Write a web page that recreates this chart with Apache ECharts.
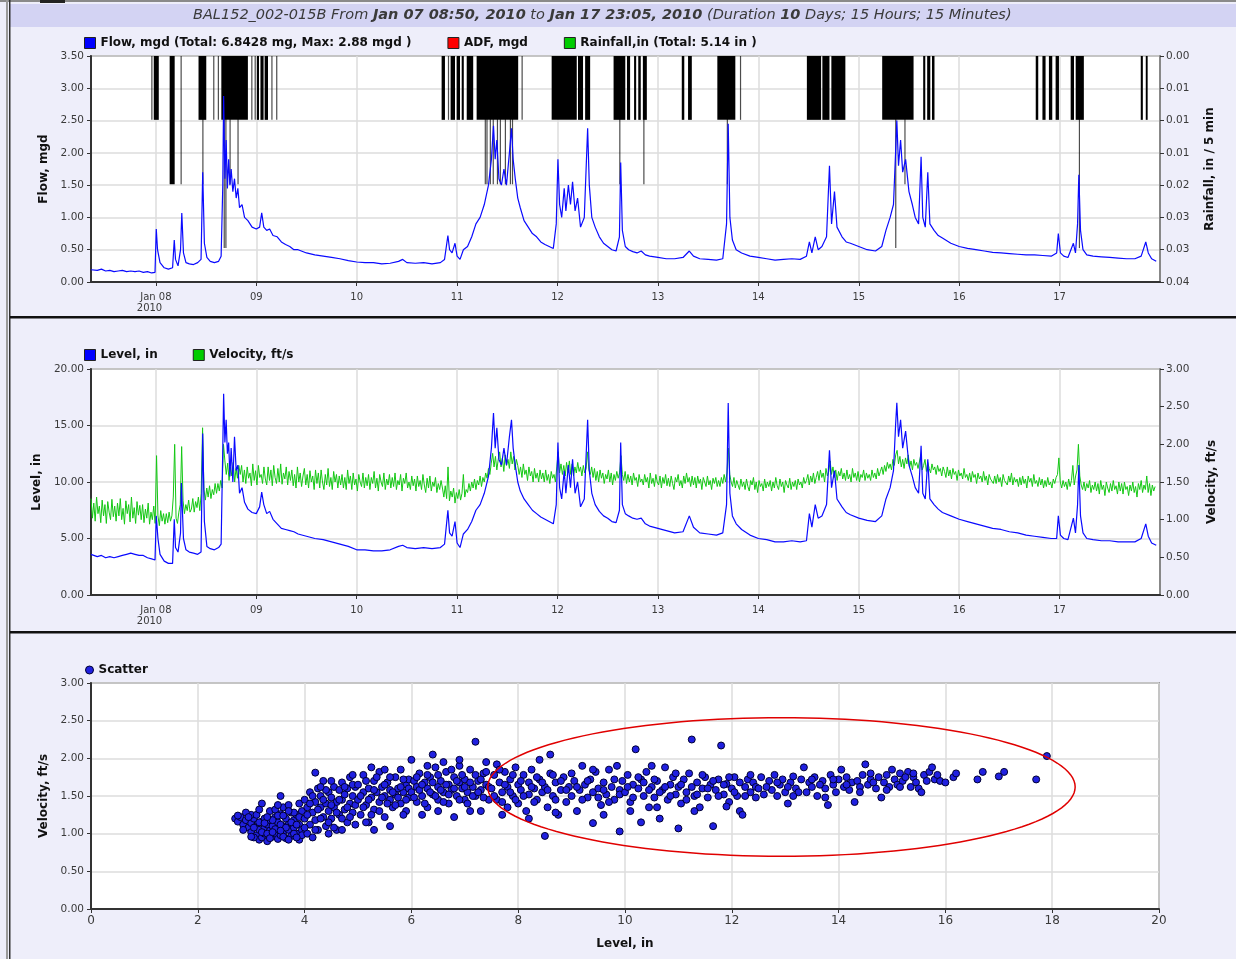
<!DOCTYPE html>
<html><head><meta charset="utf-8">
<script src="https://cdn.jsdelivr.net/npm/echarts@6/dist/echarts.min.js"></script>
<style>html,body{margin:0;padding:0;background:#eeeefa;} #c{width:1236px;height:959px;}</style>
</head><body><div id="c"></div>
<script>
// ---- time base: hours counted from Jan 07 2010 00:00 ----
const axisStartHour = 8.5, axisEndHour = 264;

// Flow, mgd  [hour, value]
const flow = [[8.5,.19],[10,.18],[11,.2],[12,.17],[13,.18],[14,.16],[15,.17],[16,.18],[17,.16],[18,.17],[19,.16],[20,.17],[21,.15],[22,.16],[23,.14],[23.8,.15],[24.1,.82],[24.4,.5],[25,.3],[26,.22],[27,.2],[28,.22],[28.4,.65],[28.7,.35],[29.3,.25],[29.9,.5],[30.2,1.07],[30.6,.45],[31.2,.3],[32,.28],[33,.27],[34,.3],[34.8,.35],[35.2,1.7],[35.6,.6],[36.2,.38],[37,.32],[38,.3],[39,.32],[39.6,.4],[40.0,1.5],[40.2,2.88],[40.5,1.6],[40.8,2.2],[41.1,1.45],[41.4,1.9],[41.7,1.5],[42,1.75],[42.4,1.4],[42.8,1.6],[43.2,1.3],[43.6,1.45],[44,1.15],[44.6,1.2],[45.2,1.0],[46,0.95],[47,0.85],[48,0.82],[48.8,0.85],[49.3,1.07],[49.8,0.85],[50.5,0.8],[51.2,0.82],[52,0.72],[53,0.7],[54,0.62],[55,0.58],[56,0.55],[57,0.5],[58,0.5],[60,0.45],[62,0.42],[64,0.4],[66,0.38],[68,0.36],[70,0.33],[72,0.31],[74,0.3],[76,0.3],[78,0.28],[80,0.29],[82,0.32],[83,0.35],[84,0.3],[86,0.29],[88,0.3],[90,0.28],[92,0.3],[93,0.35],[93.8,0.72],[94.2,0.5],[94.8,0.45],[95.5,0.6],[96,0.4],[96.7,0.35],[97.5,0.5],[98.5,0.55],[99.5,0.7],[100.5,0.9],[101.5,1.0],[102.5,1.2],[103.5,1.5],[104.2,1.9],[104.7,2.42],[105.1,1.9],[105.5,2.2],[106,1.6],[106.6,1.5],[107.2,1.75],[107.8,1.5],[108.5,2.0],[109.0,2.38],[109.4,1.9],[109.9,1.6],[110.5,1.3],[111.1,1.15],[112,0.95],[113,0.85],[114,0.75],[115,0.7],[116,0.62],[117,0.58],[118,0.55],[119,0.52],[119.7,0.9],[120.1,1.9],[120.5,1.2],[121,1.0],[121.6,1.45],[122,1.1],[122.6,1.5],[123.1,1.2],[123.6,1.55],[124.2,1.1],[124.8,1.3],[125.5,0.85],[126.4,1.0],[127.2,2.38],[127.6,1.5],[128.2,1.0],[129,0.85],[130,0.7],[131,0.6],[132,0.55],[133,0.5],[134,0.48],[134.8,0.7],[135.1,1.85],[135.5,0.8],[136.2,0.55],[137,0.5],[138,0.47],[139,0.45],[140,0.48],[141,0.42],[142,0.4],[144,0.38],[146,0.36],[148,0.36],[150,0.38],[151.5,0.48],[152.5,0.4],[154,0.36],[156,0.35],[158,0.34],[159.5,0.36],[160.4,0.9],[160.8,2.45],[161.2,1.0],[161.8,0.65],[162.7,0.5],[164,0.45],[166,0.4],[168,0.38],[170,0.36],[172,0.34],[174,0.35],[176,0.36],[178,0.35],[179.5,0.4],[180.2,0.62],[180.8,0.45],[181.6,0.7],[182.3,0.5],[183.2,0.55],[184.3,0.7],[185,1.8],[185.5,0.9],[186.2,1.4],[186.8,0.85],[188,0.7],[189,0.62],[190,0.6],[192,0.55],[194,0.5],[196,0.48],[197.5,0.55],[198.5,0.8],[199.5,1.0],[200.3,1.2],[200.8,2.0],[201.1,2.5],[201.5,1.8],[202,2.2],[202.5,1.7],[203.2,1.9],[204,1.4],[204.8,1.2],[205.5,1.0],[206.3,0.9],[206.9,1.94],[207.3,1.0],[207.9,0.85],[208.5,1.7],[209,0.9],[210,0.8],[211,0.72],[212,0.68],[214,0.6],[216,0.55],[218,0.52],[220,0.5],[222,0.48],[224,0.46],[226,0.45],[228,0.44],[230,0.43],[232,0.42],[234,0.42],[236,0.41],[238,0.4],[239.3,0.45],[239.7,0.75],[240.2,0.45],[241,0.4],[242,0.38],[243.3,0.6],[243.8,0.45],[244.3,0.9],[244.6,1.66],[245,0.8],[245.6,0.5],[246.5,0.42],[248,0.4],[250,0.39],[252,0.38],[254,0.37],[256,0.36],[258,0.36],[259.5,0.4],[260.6,0.62],[261.2,0.45],[262,0.36],[263.1,0.32]];

// Level, in  [hour, value]
const level = [[8.5,3.6],[10,3.4],[11,3.5],[12,3.3],[13,3.4],[14,3.3],[15,3.4],[16,3.5],[17,3.6],[18,3.7],[19,3.6],[20,3.5],[21,3.5],[22,3.3],[23,3.2],[23.8,3.1],[24.1,7.0],[24.5,5.0],[25,3.6],[26,3.0],[27,2.8],[28,2.8],[28.4,6.7],[28.7,4.2],[29.3,3.8],[29.9,5.5],[30.1,9.9],[30.6,5.0],[31.2,4.0],[32,3.8],[33,3.7],[34,3.6],[34.8,3.8],[35.2,14.3],[35.6,6.5],[36.2,4.3],[37,4.1],[38,4.0],[39,4.2],[39.6,4.5],[40.0,13],[40.2,17.8],[40.5,13.5],[40.8,15.5],[41.1,12.5],[41.4,13.5],[41.7,10.5],[42,13],[42.4,10],[42.8,14],[43.2,11],[43.6,11.5],[44,9],[44.6,9.5],[45.2,8.2],[46,7.6],[47,7.3],[48,7.2],[48.8,7.8],[49.3,9.1],[49.8,8],[50.5,7.2],[51.2,7.4],[52,6.7],[53,6.3],[54,5.9],[55,5.8],[56,5.7],[57,5.6],[58,5.4],[60,5.2],[62,5.0],[64,4.9],[66,4.7],[68,4.5],[70,4.3],[72,4.0],[74,4.0],[76,3.9],[78,3.9],[80,4.0],[82,4.3],[83,4.4],[84,4.2],[86,4.1],[88,4.2],[90,4.1],[92,4.2],[93,4.5],[93.8,7.5],[94.2,5.5],[94.8,5.2],[95.5,6.5],[96,4.6],[96.7,4.2],[97.5,5.4],[98.5,5.8],[99.5,6.5],[100.5,7.5],[101.5,8.0],[102.5,9.0],[103.5,10.5],[104.2,13],[104.7,16.1],[105.1,13],[105.5,14.8],[106,12],[106.6,11.5],[107.2,13],[107.8,11.5],[108.5,14],[109.0,15.5],[109.4,13],[109.9,11.5],[110.5,10],[111.1,9.2],[112,8.5],[113,8.0],[114,7.5],[115,7.2],[116,6.9],[117,6.7],[118,6.5],[119,6.3],[119.7,8],[120.1,13.5],[120.5,9.5],[121,8.5],[121.6,11],[122,9],[122.6,11.5],[123.1,9.5],[123.6,12],[124.2,9],[124.8,10],[125.5,7.8],[126.4,8.5],[127.2,15.5],[127.6,11],[128.2,9],[129,8],[130,7.4],[131,7.0],[132,6.8],[133,6.5],[134,6.4],[134.8,7.5],[135.1,13.5],[135.5,8],[136.2,7.2],[137,7.0],[138,6.8],[139,6.7],[140,6.8],[141,6.3],[142,6.1],[144,5.9],[146,5.7],[148,5.5],[150,5.6],[151.5,7.0],[152.5,6.0],[154,5.5],[156,5.4],[158,5.3],[159.5,5.5],[160.4,8],[160.8,17.0],[161.2,9],[161.8,7.0],[162.7,6.3],[164,5.8],[166,5.3],[168,5.0],[170,4.9],[172,4.7],[174,4.7],[176,4.8],[178,4.7],[179.5,4.8],[180.2,7.2],[180.8,6],[181.6,8],[182.3,6.8],[183.2,7.0],[184.3,8],[185,12.8],[185.5,9.5],[186.2,11],[186.8,8.5],[188,7.8],[189,7.3],[190,7.1],[192,6.8],[194,6.6],[196,6.5],[197.5,7.0],[198.5,8.5],[199.5,9.5],[200.3,11],[200.8,15],[201.1,17.0],[201.5,14],[202,15.5],[202.5,13],[203.2,14.5],[204,11.5],[204.8,10.5],[205.5,9.5],[206.3,9],[206.9,13.2],[207.3,9],[207.9,8.5],[208.5,12],[209,8.5],[210,8.0],[211,7.6],[212,7.3],[214,7.0],[216,6.7],[218,6.5],[220,6.3],[222,6.1],[224,5.9],[226,5.8],[228,5.6],[230,5.5],[232,5.3],[234,5.2],[236,5.1],[238,5.0],[239.3,5.0],[239.7,7.0],[240.2,5.3],[241,5.0],[242,4.9],[243.3,6.8],[243.8,5.5],[244.3,8],[244.6,11.5],[245,7],[245.6,5.5],[246.5,5.0],[248,4.9],[250,4.8],[252,4.8],[254,4.7],[256,4.7],[258,4.7],[259.5,5.0],[260.6,6.3],[261.2,5.2],[262,4.6],[263.1,4.4]];

// Velocity, ft/s : one reading every 20 min from hour 8.5
const velStartHour = 8.5, velStepHour = 1/3;
const velocity = [
1.28,1.02,1.22,0.98,1.3,1.08,1.18,0.96,1.26,1.05,1.2,0.95,1.24,1.1,1.0,1.27,1.04,1.18,
0.98,1.22,1.05,1.28,1.0,1.15,0.94,1.25,1.08,1.2,0.97,1.3,1.02,1.16,0.95,1.24,1.06,1.19,
1.0,1.2,0.96,1.14,1.02,1.22,0.94,1.1,1.0,1.18,0.95,1.85,1.05,0.92,1.12,0.98,1.08,0.94,
1.08,0.96,1.1,0.98,1.05,1.3,2.0,1.02,0.95,1.1,1.2,1.97,1.25,1.08,1.2,1.12,1.26,1.1,
1.14,1.28,1.1,1.24,1.16,1.3,1.12,1.35,2.22,1.4,1.26,1.42,1.3,1.45,1.28,1.4,1.33,1.48,
1.35,1.48,1.38,1.52,1.42,2.0,1.78,1.6,1.75,1.52,1.7,1.58,1.76,1.5,1.68,1.55,1.72,1.6,
1.72,1.5,1.66,1.48,1.7,1.55,1.62,1.45,1.74,1.52,1.65,1.46,1.72,1.56,1.6,1.48,1.7,1.54,
1.46,1.7,1.52,1.66,1.45,1.72,1.56,1.48,1.68,1.5,1.74,1.47,1.62,1.54,1.7,1.46,1.64,1.52,
1.66,1.45,1.6,1.42,1.7,1.5,1.62,1.44,1.58,1.68,1.46,1.6,1.42,1.65,1.5,1.58,1.4,1.66,
1.48,1.62,1.42,1.66,1.5,1.4,1.6,1.46,1.68,1.44,1.56,1.4,1.64,1.5,1.6,1.42,1.58,1.46,
1.6,1.42,1.56,1.4,1.66,1.48,1.58,1.4,1.62,1.46,1.54,1.38,1.6,1.5,1.44,1.62,1.42,1.56,
1.45,1.6,1.4,1.56,1.48,1.64,1.42,1.55,1.38,1.6,1.5,1.44,1.62,1.4,1.54,1.46,1.6,1.42,
1.56,1.44,1.62,1.4,1.52,1.46,1.6,1.38,1.55,1.48,1.62,1.42,1.5,1.4,1.58,1.45,1.54,1.38,
1.58,1.44,1.52,1.4,1.6,1.46,1.36,1.55,1.42,1.58,1.38,1.5,1.44,1.56,1.36,1.48,1.4,1.52,
1.42,1.3,1.45,1.28,1.7,1.25,1.38,1.3,1.42,1.22,1.36,1.28,1.4,1.26,1.35,1.6,1.3,1.4,
1.36,1.48,1.38,1.5,1.42,1.54,1.4,1.52,1.46,1.58,1.44,1.56,1.5,1.62,1.55,1.68,1.6,1.75,
1.88,1.7,1.84,1.66,1.8,1.9,1.7,1.82,1.64,1.86,1.72,1.8,1.68,1.9,1.74,1.84,1.66,1.8,
1.72,1.6,1.7,1.56,1.74,1.6,1.66,1.52,1.7,1.58,1.64,1.5,1.68,1.55,1.62,1.5,1.66,1.54,
1.62,1.5,1.66,1.52,1.6,1.48,1.64,1.55,1.6,1.5,1.7,1.9,1.62,1.74,1.6,1.72,1.58,1.76,
1.62,1.78,1.6,1.74,1.58,1.7,1.62,1.76,1.64,1.7,1.58,1.72,1.62,1.68,1.9,1.66,1.6,1.7,
1.56,1.68,1.52,1.64,1.5,1.66,1.55,1.62,1.48,1.6,1.54,1.66,1.5,1.62,1.46,1.6,1.52,1.64,
1.55,1.62,1.85,1.6,1.52,1.64,1.48,1.6,1.5,1.58,1.46,1.62,1.52,1.56,1.44,1.6,1.5,1.54,
1.46,1.6,1.5,1.56,1.42,1.62,1.48,1.55,1.44,1.6,1.5,1.46,1.58,1.42,1.56,1.48,1.6,1.45,
1.55,1.44,1.58,1.48,1.4,1.56,1.5,1.6,1.45,1.52,1.42,1.58,1.48,1.62,1.5,1.56,1.44,1.58,
1.46,1.56,1.42,1.58,1.48,1.54,1.4,1.56,1.5,1.44,1.58,1.46,1.52,1.4,1.55,1.48,1.56,1.44,
1.52,1.44,1.56,1.48,1.6,1.5,1.62,1.95,1.6,1.5,1.44,1.56,1.42,1.52,1.46,1.4,1.54,1.44,
1.5,1.4,1.54,1.44,1.38,1.52,1.46,1.56,1.4,1.5,1.36,1.52,1.44,1.48,1.38,1.54,1.42,1.5,
1.44,1.52,1.38,1.5,1.42,1.56,1.45,1.4,1.54,1.44,1.5,1.36,1.52,1.46,1.42,1.55,1.4,1.5,
1.44,1.52,1.4,1.54,1.46,1.5,1.42,1.56,1.48,1.52,1.6,1.46,1.58,1.5,1.62,1.48,1.56,1.64,
1.52,1.66,1.56,1.62,1.5,1.68,1.58,1.64,1.78,1.6,1.7,1.56,1.66,1.52,1.64,1.58,1.68,1.54,
1.62,1.52,1.66,1.54,1.6,1.5,1.68,1.56,1.62,1.52,1.64,1.5,1.6,1.56,1.66,1.52,1.62,1.55,
1.6,1.52,1.66,1.56,1.62,1.54,1.68,1.58,1.64,1.7,1.6,1.72,1.64,1.76,1.68,1.74,1.66,1.8,
1.72,1.86,1.92,1.74,1.84,1.7,1.8,1.68,1.82,1.74,1.86,1.7,1.78,1.66,1.8,1.72,1.76,1.68,
1.7,1.86,1.66,1.72,1.8,1.64,1.76,1.68,1.62,1.74,1.66,1.7,1.6,1.72,1.64,1.68,1.58,1.7,
1.64,1.56,1.7,1.58,1.66,1.54,1.68,1.6,1.64,1.52,1.66,1.58,1.62,1.54,1.68,1.56,1.6,1.52,
1.62,1.5,1.64,1.56,1.6,1.48,1.62,1.54,1.58,1.5,1.64,1.52,1.58,1.46,1.6,1.54,1.56,1.48,
1.58,1.48,1.6,1.5,1.56,1.44,1.6,1.52,1.54,1.46,1.58,1.5,1.62,1.46,1.56,1.5,1.54,1.44,
1.56,1.46,1.58,1.48,1.54,1.42,1.58,1.5,1.55,1.44,1.6,1.48,1.52,1.44,1.56,1.46,1.54,1.42,
1.52,1.44,1.56,1.46,1.5,1.42,1.54,1.48,1.56,1.6,1.82,1.5,1.42,1.52,1.44,1.5,1.4,1.54,
1.44,1.52,1.72,1.46,1.58,1.66,2.0,1.58,1.46,1.4,1.5,1.38,1.48,1.42,1.52,1.36,1.46,1.4,
1.5,1.38,1.48,1.34,1.52,1.4,1.46,1.32,1.5,1.42,1.36,1.48,1.38,1.52,1.4,1.45,1.34,1.5,
1.38,1.48,1.34,1.5,1.4,1.44,1.32,1.46,1.38,1.5,1.36,1.44,1.3,1.48,1.4,1.52,1.36,1.46,
1.4,1.58,1.36,1.48,1.32,1.46,1.38,1.44];

// Rainfall, in / 5 min : [start hour, end hour, depth]
const rain = [[22.9,23.2,.0113],[23.5,24.7,.0113],[27.3,28.5,.0227],[29.9,30.1,.0227],[34.2,36.05,.0113],[35.1,35.2,.0227],[37.7,37.8,.0113],[38.8,38.9,.0113],[39.65,46.0,.0113],[40.2,40.3,.034],[40.6,40.7,.034],[41.6,41.7,.0227],[43.5,43.6,.0227],[46.8,46.9,.0113],[47.6,47.7,.0113],[48.15,48.65,.0113],[49.0,49.75,.0113],[50.0,50.8,.0113],[51.6,51.7,.0113],[52.75,52.85,.0113],[92.3,93.1,.0113],[93.8,94.0,.0113],[94.45,95.5,.0113],[95.9,96.7,.0113],[97.1,97.6,.0113],[98.3,99.85,.0113],[100.67,110.6,.0113],[102.6,102.7,.0227],[103.0,103.1,.0227],[103.8,103.9,.0227],[104.5,104.6,.0227],[105.5,105.6,.0227],[106.2,106.3,.0227],[107.4,107.5,.0227],[108.6,108.7,.0227],[109.1,109.2,.0227],[111.4,111.5,.0113],[118.6,124.6,.0113],[124.9,126.1,.0113],[126.6,127.8,.0113],[133.4,136.2,.0113],[134.75,134.85,.0227],[136.6,137.35,.0113],[138.3,138.8,.0113],[139.3,139.9,.0113],[140.4,141.35,.0113],[140.5,140.6,.0227],[149.7,150.3,.0113],[151.2,152.1,.0113],[158.2,162.5,.0113],[160.45,160.55,.0227],[163.6,163.7,.0113],[179.6,183.0,.0113],[183.3,185.0,.0113],[185.45,188.8,.0113],[197.6,205.1,.0113],[200.7,200.8,.034],[202.9,203.0,.0227],[207.4,207.9,.0113],[208.35,209.1,.0113],[209.5,210.1,.0113],[234.3,234.9,.0113],[235.9,236.65,.0113],[237.45,238.25,.0113],[239.05,239.85,.0113],[242.65,243.45,.0113],[243.85,245.8,.0113],[244.6,244.7,.034],[259.4,259.9,.0113],[260.6,261.05,.0113]];

// Scatter: [level in, velocity ft/s]
const scatter = [[2.7,1.2],[2.75,1.16],[2.8,1.22],[2.85,1.12],[2.9,1.18],[2.95,1.08],[3.0,1.14],[3.0,1.02],[3.05,1.2],[3.1,0.98],[3.1,1.1],[3.15,0.92],[3.15,1.05],[3.2,1.16],[3.2,0.95],[3.25,1.08],[3.25,1.0],[3.3,1.12],[3.3,0.9],[3.35,1.04],[3.35,1.18],[3.4,0.96],[3.4,1.1],[3.45,1.22],[3.45,1.0],[3.5,0.93],[3.5,1.15],[3.5,1.06],[3.55,1.26],[3.55,0.98],[3.6,1.1],[3.6,1.02],[3.65,1.2],[3.65,0.94],[3.7,1.12],[3.7,1.05],[3.75,1.28],[3.75,0.97],[3.8,1.18],[3.8,1.08],[3.85,1.0],[3.85,1.25],[3.9,1.12],[3.9,0.92],[3.95,1.3],[3.95,1.05],[3.2,1.4],[3.55,1.5],[3.35,1.3],[3.0,1.25],[3.45,1.32],[3.6,1.35],[2.9,1.28],[3.7,1.38],
[2.75,1.24],[2.85,1.05],[2.95,1.22],[3.05,0.95],[3.1,1.25],[3.15,1.15],[3.2,1.02],[3.25,1.2],[3.3,1.0],[3.35,0.94],[3.4,1.18],[3.45,1.06],[3.5,1.24],[3.55,1.12],[3.6,0.96],[3.65,1.08],[3.7,0.92],[3.75,1.15],[3.8,1.0],[3.85,1.12],[3.9,1.22],[3.95,0.98],[3.05,1.08],[3.25,1.14],[3.4,1.02],[3.6,1.24],[3.8,1.28],[3.15,1.32],[3.5,1.38],[3.9,1.4],[3.7,1.3],[3.3,1.22],[3.0,0.96],[3.55,1.04],[3.85,0.95],
[4.0,1.45],[4.0,1.2],[4.05,1.0],[4.05,1.35],[4.1,1.55],[4.1,1.12],[4.15,1.28],[4.15,0.95],[4.2,1.42],[4.2,1.18],[4.25,1.6],[4.25,1.05],[4.3,1.35],[4.3,1.5],[4.35,1.22],[4.35,1.7],[4.4,1.4],[4.4,1.1],[4.45,1.55],[4.45,1.3],[4.5,1.48],[4.5,1.2],[4.55,1.62],[4.55,1.35],[4.6,1.42],[4.6,1.05],[4.65,1.58],[4.65,1.25],[4.7,1.45],[4.7,1.68],[4.75,1.32],[4.75,1.52],[4.8,1.15],[4.8,1.6],[4.85,1.4],[4.85,1.75],[4.9,1.28],[4.9,1.5],[4.95,1.62],[4.95,1.38],[4.2,1.81],[4.45,1.0],
[4.05,1.25],[4.1,1.4],[4.15,1.5],[4.2,1.05],[4.25,1.32],[4.3,1.2],[4.35,1.45],[4.4,1.58],[4.45,1.15],[4.5,1.38],[4.55,1.08],[4.6,1.28],[4.65,1.45],[4.7,1.2],[4.75,1.62],[4.8,1.35],[4.85,1.22],[4.9,1.65],[4.95,1.12],[4.0,1.08],[4.3,1.62],[4.5,1.7],[4.7,1.05],[4.9,1.78],
[5.0,1.45],[5.0,1.65],[5.05,1.25],[5.1,1.55],[5.1,1.78],[5.15,1.38],[5.2,1.6],[5.2,1.15],[5.25,1.48],[5.3,1.7],[5.3,1.32],[5.35,1.55],[5.4,1.42],[5.4,1.82],[5.45,1.62],[5.5,1.5],[5.5,1.22],[5.55,1.68],[5.6,1.45],[5.6,1.58],[5.65,1.35],[5.7,1.75],[5.7,1.52],[5.75,1.6],[5.8,1.4],[5.8,1.85],[5.85,1.55],[5.9,1.65],[5.9,1.3],[5.95,1.48],[5.3,1.05],[5.6,1.1],[5.95,1.72],
[5.05,1.5],[5.1,1.35],[5.15,1.7],[5.2,1.45],[5.25,1.25],[5.3,1.58],[5.35,1.75],[5.4,1.3],[5.45,1.48],[5.5,1.65],[5.55,1.4],[5.6,1.75],[5.65,1.55],[5.7,1.38],[5.75,1.48],[5.8,1.62],[5.85,1.72],[5.9,1.45],[5.95,1.6],[5.15,1.15],[5.5,1.85],[5.85,1.25],[5.25,1.88],
[6.0,1.55],[6.0,1.98],[6.05,1.7],[6.1,1.42],[6.1,1.62],[6.15,1.8],[6.2,1.5],[6.25,1.68],[6.3,1.35],[6.3,1.6],[6.35,1.75],[6.4,1.52],[6.45,1.88],[6.5,1.62],[6.5,1.45],[6.55,1.7],[6.6,1.55],[6.65,1.82],[6.7,1.4],[6.7,1.65],[6.75,1.58],[6.8,1.75],[6.85,1.5],[6.9,1.68],[6.9,1.9],[6.95,1.6],[7.0,1.45],[7.0,1.72],[7.05,1.55],[7.1,1.85],[7.15,1.62],[7.2,2.22],[7.2,1.5],[7.25,1.7],[7.3,1.58],[7.35,1.8],[7.4,1.65],[7.45,1.45],[6.2,1.25],[6.8,1.22],[7.3,1.3],[6.4,2.05],[6.6,1.95],
[6.05,1.48],[6.1,1.75],[6.15,1.58],[6.2,1.65],[6.25,1.4],[6.3,1.78],[6.35,1.55],[6.4,1.68],[6.45,1.5],[6.5,1.78],[6.55,1.58],[6.6,1.42],[6.65,1.65],[6.7,1.52],[6.75,1.85],[6.8,1.6],[6.85,1.7],[6.9,1.45],[6.95,1.78],[7.0,1.62],[7.05,1.4],[7.1,1.68],[7.15,1.5],[7.2,1.78],[7.25,1.55],[7.3,1.72],[7.35,1.48],[7.4,1.82],[7.45,1.62],[6.3,1.9],[6.9,1.98],[7.1,1.3],[6.5,1.3],[7.4,1.95],
[7.5,1.6],[7.55,1.78],[7.6,1.92],[7.6,1.45],[7.65,1.68],[7.7,1.55],[7.75,1.82],[7.8,1.35],[7.8,1.62],[7.85,1.72],[7.9,1.5],[7.95,1.88],[8.0,1.65],[8.0,1.4],[8.05,1.58],[8.1,1.78],[8.15,1.3],[8.2,1.68],[8.2,1.52],[8.25,1.85],[8.3,1.6],[8.35,1.45],[8.4,1.72],[8.4,1.98],[8.45,1.55],[8.5,0.97],[8.5,1.62],[8.55,1.35],[8.6,1.8],[8.6,2.05],[8.65,1.5],[8.7,1.68],[8.75,1.25],[8.8,1.58],[8.85,1.75],[8.9,1.42],[8.95,1.62],[9.0,1.5],[9.05,1.7],[9.1,1.3],[9.15,1.58],[9.2,1.9],[9.25,1.65],[9.3,1.48],[9.35,1.72],[9.4,1.14],[9.4,1.55],[9.45,1.82],[9.5,1.6],[9.55,1.38],[9.6,1.68],[9.65,1.52],[9.7,1.85],[9.75,1.62],[9.8,1.45],[9.85,1.9],[9.9,1.03],[9.9,1.58],[9.95,1.7],
[7.55,1.5],[7.65,1.85],[7.7,1.42],[7.75,1.65],[7.85,1.55],[7.9,1.78],[7.95,1.45],[8.05,1.7],[8.1,1.5],[8.25,1.62],[8.3,1.42],[8.35,1.75],[8.45,1.68],[8.55,1.58],[8.65,1.78],[8.7,1.45],[8.8,1.7],[8.9,1.58],[9.0,1.8],[9.1,1.62],[9.2,1.45],[9.3,1.7],[9.4,1.85],[9.5,1.48],[9.6,1.58],[9.7,1.42],[9.8,1.72],[9.9,1.52],[8.2,1.2],[8.7,1.28],[9.6,1.25],[7.7,1.25],
[10.0,1.55],[10.05,1.78],[10.1,1.42],[10.15,1.65],[10.2,2.12],[10.25,1.6],[10.3,1.15],[10.3,1.72],[10.35,1.5],[10.4,1.82],[10.45,1.35],[10.5,1.62],[10.5,1.9],[10.55,1.48],[10.6,1.7],[10.65,1.2],[10.7,1.58],[10.75,1.88],[10.8,1.45],[10.85,1.65],[10.9,1.75],[10.95,1.52],[11.0,1.07],[11.0,1.62],[11.05,1.4],[11.1,1.72],[11.15,1.55],[11.2,1.8],[11.25,2.25],[11.3,1.5],[11.35,1.68],[11.4,1.35],[11.45,1.6],[11.5,1.75],[11.55,1.48],[11.6,1.65],[11.65,1.1],[11.7,1.58],[11.75,1.72],[11.8,2.17],[11.85,1.52],[11.9,1.66],[11.95,1.42],[12.0,1.6],[12.05,1.75],[12.1,1.5],[12.15,1.3],[12.2,1.25],[12.25,1.62],[12.3,1.72],[12.35,1.55],[12.4,1.68],[12.45,1.48],
[10.05,1.62],[10.15,1.48],[10.25,1.75],[10.35,1.68],[10.45,1.58],[10.55,1.72],[10.65,1.55],[10.75,1.62],[10.85,1.5],[10.95,1.8],[11.05,1.65],[11.15,1.45],[11.25,1.62],[11.35,1.52],[11.45,1.78],[11.55,1.6],[11.65,1.7],[11.75,1.5],[11.85,1.65],[11.95,1.75],[12.05,1.55],[12.15,1.68],[12.25,1.5],[12.35,1.78],[12.45,1.62],[10.6,1.35],[11.3,1.3],[11.9,1.36],[10.1,1.3],
[12.5,1.6],[12.55,1.75],[12.6,1.52],[12.7,1.7],[12.75,1.58],[12.8,1.78],[12.85,1.5],[12.9,1.65],[12.95,1.72],[13.0,1.55],[13.05,1.4],[13.1,1.68],[13.15,1.76],[13.2,1.6],[13.3,1.72],[13.35,1.88],[13.4,1.55],[13.45,1.68],[13.5,1.62],[13.55,1.75],[13.6,1.5],[13.7,1.7],[13.75,1.6],[13.8,1.38],[13.85,1.78],[13.9,1.65],[13.95,1.55],[14.0,1.72],[14.05,1.85],[14.1,1.62],[14.15,1.75],[14.2,1.58],[14.25,1.68],[14.3,1.42],[14.35,1.7],[14.4,1.62],[14.45,1.78],[14.5,1.92],[14.55,1.65],[14.6,1.72],[14.7,1.6],[14.75,1.75],[14.8,1.48],[14.85,1.68],[14.9,1.78],[14.95,1.62],[15.0,1.85],[15.05,1.72],[15.1,1.65],[15.15,1.8],[15.2,1.7],[15.3,1.82],[15.35,1.62],[15.4,1.75],[15.45,1.68],[15.5,1.6],[15.55,1.55],[15.6,1.78],[15.7,1.82],[15.75,1.88],[15.8,1.72],[15.9,1.7],[16.0,1.68],[16.15,1.75],[16.2,1.8],
[12.65,1.62],[12.85,1.68],[13.05,1.62],[13.25,1.55],[13.5,1.72],[13.65,1.65],[13.9,1.72],[14.15,1.65],[14.4,1.55],[14.65,1.68],[14.9,1.58],[15.15,1.62],[15.4,1.8],[15.65,1.7],[15.85,1.78],[13.15,1.5],[13.75,1.48],[14.6,1.8],[15.25,1.75],
[16.6,1.72],[16.7,1.82],[17.0,1.76],[17.1,1.82],[17.7,1.72],[17.9,2.03]];

// red highlight ellipse: [centre level, centre velocity, half-width (in), half-height (ft/s)]
const ellipse = [12.93, 1.62, 5.5, 0.92];

// right-axis tick labels of the rainfall scale (as printed)
const rainTickLabels = ['0.00','0.01','0.01','0.01','0.02','0.03','0.03','0.04'];

const legendTop = ['Flow, mgd (Total: 6.8428 mg, Max: 2.88 mgd )','ADF, mgd','Rainfall,in (Total: 5.14 in )'];
const legendMid = ['Level, in','Velocity, ft/s'];

// ---------------------------------------------------------
const T0 = new Date(2010,0,7,0,0,0).getTime();
const ts = h => T0 + h*3600000;
const FONT = '"DejaVu Sans", Verdana, sans-serif';
const pad2 = n => (n<10?'0':'')+n;

const flowData = flow.map(p=>[ts(p[0]),p[1]]);
const levelData = level.map(p=>[ts(p[0]),p[1]]);
const velData = velocity.map((v,i)=>[ts(velStartHour+i*velStepHour), v]);
const rainData = rain.map(r=>[ts(r[0]),ts(r[1]),r[2]]);

const axisLabelStyle = {color:'#3a3a3a', fontSize:10.5, fontFamily:FONT};
const nameStyle = {color:'#111', fontSize:12, fontWeight:'bold', fontFamily:FONT};

function timeAxis(gridIndex){
  return {
    type:'time', gridIndex, min:ts(axisStartHour), max:ts(axisEndHour),
    minInterval:86400000, maxInterval:86400000,
    axisLine:{show:true, lineStyle:{color:'#333', width:2}},
    axisTick:{show:true, length:4, lineStyle:{color:'#333'}},
    splitLine:{show:true, lineStyle:{color:'#dcdcdc', width:1.5}},
    axisLabel:{...axisLabelStyle, fontSize:10, margin:10, lineHeight:11, showMinLabel:false, showMaxLabel:false,
      formatter:function(v){ const d=new Date(v); if(d.getHours()!==0||d.getMinutes()!==0) return '';
        const dd=d.getDate(); if(d.getMonth()===0 && dd===8) return 'Jan 08\n2010    '; return pad2(dd); }}
  };
}
function valAxis(gridIndex, min, max, interval, opts){
  return Object.assign({
    type:'value', gridIndex, min, max, interval,
    axisLine:{show:true, lineStyle:{color:'#333', width:2}},
    axisTick:{show:true, length:4, lineStyle:{color:'#333'}},
    splitLine:{show:true, lineStyle:{color:'#dcdcdc', width:1.5}},
    axisLabel:{...axisLabelStyle, margin:7, formatter:v=>v.toFixed(2)},
    nameLocation:'middle', nameRotate:90, nameTextStyle:nameStyle
  }, opts||{});
}

const chart = echarts.init(document.getElementById('c'), null, {renderer:'canvas'});
const legendItem = (name,color)=>({name, icon:'rect', itemStyle:{color, borderColor:'#222', borderWidth:1}});
const legendText = {fontSize:12, fontWeight:'bold', color:'#111', fontFamily:FONT};

chart.setOption({
  animation:false,
  backgroundColor:'#eeeefa',
  textStyle:{fontFamily:FONT},
  title:{
    left:193, top:8, padding:0,
    text:'{n|BAL152_002-015B From }{b|Jan 07 08:50, 2010}{n| to }{b|Jan 17 23:05, 2010}{n| (Duration }{b|10}{n| Days; 15 Hours; 15 Minutes)}',
    textStyle:{fontWeight:'normal', rich:{
      n:{fontSize:14.5, fontStyle:'italic', fontWeight:'normal', color:'#3a3a3a', fontFamily:FONT},
      b:{fontSize:14.5, fontStyle:'italic', fontWeight:'bold', color:'#3a3a3a', fontFamily:FONT}
    }}
  },
  legend:[
    {selectedMode:false, left:84, top:37, padding:0, itemWidth:11, itemHeight:11, itemGap:36, textStyle:legendText,
     data:[legendItem(legendTop[0],'#0000ff'), legendItem(legendTop[1],'#ff0000'), legendItem(legendTop[2],'#00cc00')]},
    {selectedMode:false, left:84, top:349, padding:0, itemWidth:11, itemHeight:11, itemGap:35, textStyle:legendText,
     data:[legendItem(legendMid[0],'#0000ff'), legendItem(legendMid[1],'#00cc00')]},
    {selectedMode:false, left:85, top:664, padding:0, itemWidth:8, itemHeight:8, textStyle:legendText,
     data:[{name:'Scatter', icon:'circle', itemStyle:{color:'#2020e0', borderColor:'#000033', borderWidth:1}}]}
  ],
  grid:[
    {left:91, top:56, width:1069, height:226, show:true, backgroundColor:'#ffffff', borderColor:'#555', borderWidth:1.5, outerBoundsMode:'none'},
    {left:91, top:369, width:1069, height:226, show:true, backgroundColor:'#ffffff', borderColor:'#555', borderWidth:1.5, outerBoundsMode:'none'},
    {left:91, top:683, width:1068, height:226, show:true, backgroundColor:'#ffffff', borderColor:'#555', borderWidth:1.5, outerBoundsMode:'none'}
  ],
  xAxis:[
    timeAxis(0), timeAxis(1),
    {type:'value', gridIndex:2, min:0, max:20, interval:2,
     axisLine:{show:true, lineStyle:{color:'#333', width:2}},
     axisTick:{show:true, length:4, lineStyle:{color:'#333'}},
     splitLine:{show:true, lineStyle:{color:'#dcdcdc', width:1.5}},
     axisLabel:{...axisLabelStyle, fontSize:12, margin:6},
     name:'Level, in', nameLocation:'middle', nameGap:29, nameTextStyle:nameStyle}
  ],
  yAxis:[
    valAxis(0,0,3.5,0.5,{name:'Flow, mgd', nameGap:37}),
    valAxis(0,0,0.04,0.04/7,{position:'right', inverse:true, name:'Rainfall, in / 5 min', nameGap:44,
      splitLine:{show:false}, axisLine:{show:true, lineStyle:{color:'#888', width:2}},
      axisLabel:{...axisLabelStyle, margin:6, formatter:(v,i)=>rainTickLabels[i]}}),
    valAxis(1,0,20,5,{name:'Level, in', nameGap:48}),
    valAxis(1,0,3,0.5,{position:'right', name:'Velocity, ft/s', nameGap:46, splitLine:{show:false},
      axisLine:{show:true, lineStyle:{color:'#888', width:2}}, axisLabel:{...axisLabelStyle, margin:6, formatter:v=>v.toFixed(2)}}),
    valAxis(2,0,3,0.5,{name:'Velocity, ft/s', nameGap:38})
  ],
  series:[
    {type:'custom', name:legendTop[2], xAxisIndex:0, yAxisIndex:1, z:2, clip:true,
     encode:{x:[0,1], y:2},
     renderItem:function(params, api){
       const p0 = api.coord([api.value(0), 0]);
       const p1 = api.coord([api.value(1), api.value(2)]);
       const w = p1[0]-p0[0];
       return {type:'rect', shape:{x:p0[0], y:p0[1], width:Math.max(w,1.2), height:p1[1]-p0[1]},
               style:{fill: w<1.5 ? 'rgba(0,0,0,0.7)' : '#000'}};
     },
     data:rainData},
    {type:'line', name:legendTop[1], xAxisIndex:0, yAxisIndex:0, data:[], itemStyle:{color:'#ff0000'}},
    {type:'line', name:legendTop[0], xAxisIndex:0, yAxisIndex:0, z:3, data:flowData, showSymbol:false,
     lineStyle:{color:'#0a0aff', width:1.2}, itemStyle:{color:'#0000ff'}},
    {type:'line', name:legendMid[1], xAxisIndex:1, yAxisIndex:3, z:2, data:velData, showSymbol:false,
     lineStyle:{color:'#14c814', width:1}, itemStyle:{color:'#00cc00'}},
    {type:'line', name:legendMid[0], xAxisIndex:1, yAxisIndex:2, z:3, data:levelData, showSymbol:false,
     lineStyle:{color:'#0a0aff', width:1.2}, itemStyle:{color:'#0000ff'}},
    {type:'scatter', name:'Scatter', xAxisIndex:2, yAxisIndex:4, z:3, data:scatter, symbol:'circle', symbolSize:7,
     itemStyle:{color:'#2020e0', borderColor:'#000033', borderWidth:1, opacity:1}},
    {type:'custom', name:'ellipse', xAxisIndex:2, yAxisIndex:4, z:4, clip:false, data:[ellipse],
     renderItem:function(params, api){
       const c = api.coord([api.value(0), api.value(1)]);
       const s = api.size([api.value(2), api.value(3)]);
       const pts=[]; for(let i=0;i<=144;i++){const a=i/144*2*Math.PI; pts.push([c[0]+s[0]*Math.cos(a), c[1]+s[1]*Math.sin(a)]);}
       return {type:'polygon', shape:{points:pts}, style:{fill:'none', stroke:'#e00000', lineWidth:1.5}};
     }}
  ],
  graphic:[
    {type:'rect', z:-1, shape:{x:0,y:0,width:1236,height:2}, style:{fill:'#8a8a8a'}, silent:true},
    {type:'rect', z:-1, shape:{x:40,y:0,width:25,height:3}, style:{fill:'#222'}, silent:true},
    {type:'rect', z:-1, shape:{x:10,y:4,width:1226,height:23}, style:{fill:'#d3d3f3'}, silent:true},
    {type:'rect', z:-1, shape:{x:6,y:0,width:2,height:959}, style:{fill:'#9a9a9a'}, silent:true},
    {type:'rect', z:-1, shape:{x:9,y:0,width:1.5,height:959}, style:{fill:'#333'}, silent:true},
    {type:'rect', z:-1, shape:{x:10,y:316,width:1226,height:2.5}, style:{fill:'#111'}, silent:true},
    {type:'rect', z:-1, shape:{x:10,y:631,width:1226,height:2.5}, style:{fill:'#111'}, silent:true}
  ]
});
</script></body></html>
